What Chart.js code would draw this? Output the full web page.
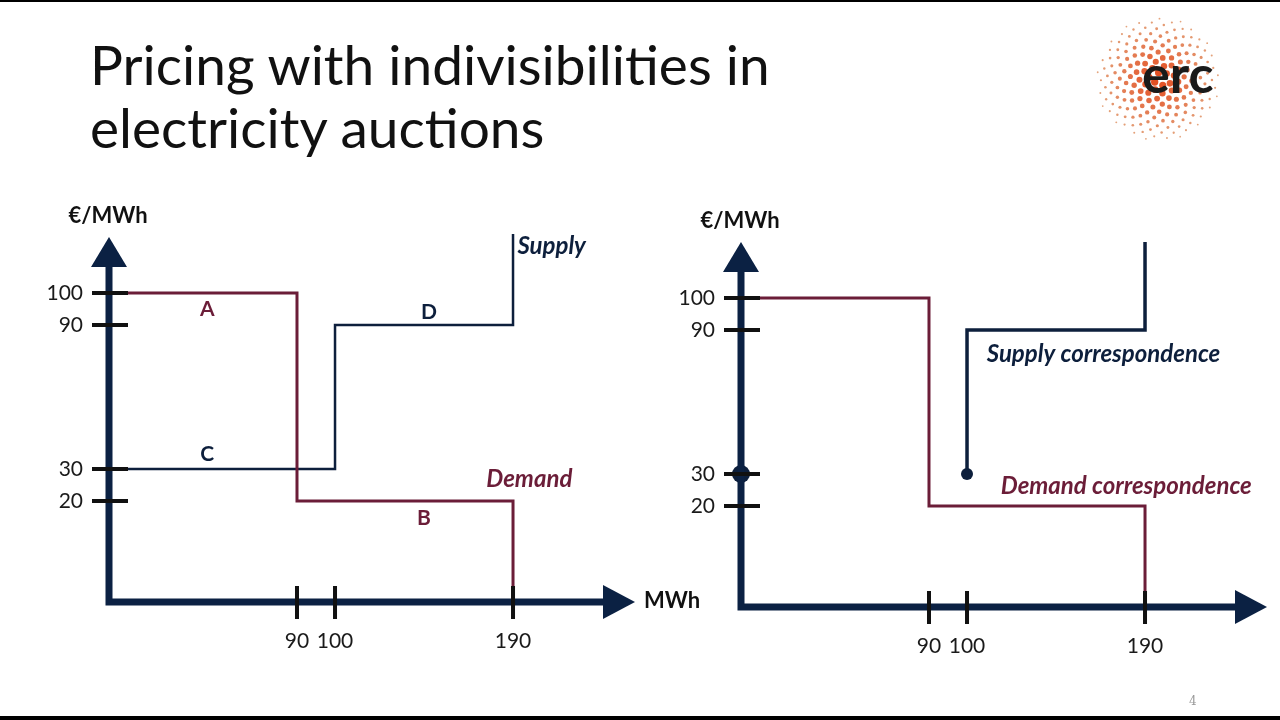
<!DOCTYPE html>
<html>
<head>
<meta charset="utf-8">
<script src="https://cdn.jsdelivr.net/npm/chart.js@4.4.1/dist/chart.umd.min.js"></script>
<style>
  html, body { margin: 0; padding: 0; background: #fff; }
  #slide { position: relative; width: 1280px; height: 720px; overflow: hidden; background: #fff; font-family: Lato, sans-serif; }
  #topbar { position: absolute; left: 0; top: 0; width: 1280px; height: 2px; background: #000; }
  #botbar { position: absolute; left: 0; top: 716px; width: 1280px; height: 4px; background: #000; }
  #title { position: absolute; left: 90px; top: 33px; font-size: 55px; line-height: 63px; color: #111; font-weight: 400; white-space: nowrap; }
  #pageno { position: absolute; left: 1189px; top: 694px; font-family: 'DejaVu Serif', serif; font-size: 12px; color: #999; }
  #logo { position: absolute; left: 1090px; top: 15px; }
  #chartLeft { position: absolute; left: 30px; top: 195px; }
  #chartRight { position: absolute; left: 662px; top: 200px; }
</style>
</head>
<body>
<div id="slide">
  <div id="topbar"></div>
  <div id="title">Pricing with indivisibilities in<br>electricity auctions</div>
  <canvas id="logo" width="140" height="130"></canvas>
  <canvas id="chartLeft"></canvas>
  <canvas id="chartRight"></canvas>
  <div id="pageno">4</div>
  <div id="botbar"></div>
</div>
<script>
// tick values on both axes
var xTicks = [90, 100, 190];
var yTicks = [20, 30, 90, 100];

// left panel: step curves
var demandQty = [0, 90, 90, 190, 190];
var demandPrice = [100, 100, 20, 20, 0];
var supplyQty = [0, 100, 100, 190, 190];
var supplyPrice = [30, 30, 90, 90, 119];

// right panel: correspondences
var corrDemandQty = [0, 90, 90, 190, 190];
var corrDemandPrice = [100, 100, 20, 20, 0];
var corrSupplyQty = [100, 100, 190, 190];
var corrSupplyPrice = [30, 90, 90, 118];
var dotQty = [0, 100];
var dotPrice = [30, 30];

// text annotations, placed in data units
var leftNotes = [
  { text: 'A', x: 47, y: 95, color: 'demand', font: 'bold 21px Lato' },
  { text: 'B', x: 145, y: 16.6, color: 'demand', font: 'bold 21px Lato' },
  { text: 'C', x: 47, y: 36.3, color: 'supply', font: 'bold 21px Lato' },
  { text: 'D', x: 147.5, y: 94, color: 'supply', font: 'bold 21px Lato' },
  { text: 'Supply', x: 209, y: 115, color: 'supply', font: 'italic bold 24px Lato' },
  { text: 'Demand', x: 198, y: 26.9, color: 'demand', font: 'italic bold 24px Lato' }
];
var rightNotes = [
  { text: 'Supply correspondence', x: 169, y: 80, color: 'supply', font: 'italic bold 24px Lato' },
  { text: 'Demand correspondence', x: 180.5, y: 26.1, color: 'demand', font: 'italic bold 24px Lato' }
];

var COLORS = { demand: '#6b1d38', supply: '#0d1f3c', axis: '#0b2143', tick: '#111111' };

// the sketch's axes are not to scale: value -> fraction of the axis length
var SCALE_KNOTS = {
  x: { values: [0, 90, 100, 190, 250], fracs: [0, 0.3574, 0.4297, 0.7681, 1] },
  y: { values: [0, 20, 30, 90, 100, 118], fracs: [0, 0.2767, 0.3644, 0.7589, 0.8466, 1] }
};

function interp(xs, ys, v) {
  var i = 1;
  while (i < xs.length - 1 && v > xs[i]) i++;
  var t = (v - xs[i - 1]) / (xs[i] - xs[i - 1]);
  return ys[i - 1] + t * (ys[i] - ys[i - 1]);
}

class SketchScale extends Chart.LinearScale {
  getPixelForValue(value) {
    var k = SCALE_KNOTS[this.axis];
    return this.getPixelForDecimal(interp(k.values, k.fracs, value));
  }
  getValueForPixel(pixel) {
    var k = SCALE_KNOTS[this.axis];
    return interp(k.fracs, k.values, this.getDecimalForPixel(pixel));
  }
}
SketchScale.id = 'sketch';
SketchScale.defaults = Chart.LinearScale.defaults;
Chart.register(SketchScale);

function points(xs, ys) {
  return xs.map(function (x, i) { return { x: x, y: ys[i] }; });
}

var axesPlugin = {
  id: 'sketchAxes',
  afterDatasetsDraw: function (chart) {
    var ctx = chart.ctx;
    var a = chart.chartArea;
    var xs = chart.scales.x;
    var ys = chart.scales.y;
    var ox = a.left, oy = a.bottom;
    ctx.save();
    ctx.strokeStyle = COLORS.axis;
    ctx.fillStyle = COLORS.axis;
    ctx.lineWidth = 7;
    ctx.beginPath();
    ctx.moveTo(ox, a.top + 28);
    ctx.lineTo(ox, oy + 3.5);
    ctx.moveTo(ox - 3.5, oy);
    ctx.lineTo(a.right - 30, oy);
    ctx.stroke();
    ctx.beginPath();
    ctx.moveTo(ox, a.top);
    ctx.lineTo(ox - 18, a.top + 30);
    ctx.lineTo(ox + 18, a.top + 30);
    ctx.closePath();
    ctx.fill();
    ctx.beginPath();
    ctx.moveTo(a.right, oy);
    ctx.lineTo(a.right - 32, oy - 17);
    ctx.lineTo(a.right - 32, oy + 17);
    ctx.closePath();
    ctx.fill();
    ctx.strokeStyle = COLORS.tick;
    ctx.lineWidth = 4;
    ctx.beginPath();
    yTicks.forEach(function (v) {
      var py = ys.getPixelForValue(v);
      ctx.moveTo(ox - 17, py);
      ctx.lineTo(ox + 19, py);
    });
    xTicks.forEach(function (v) {
      var px = xs.getPixelForValue(v);
      ctx.moveTo(px, oy - 16);
      ctx.lineTo(px, oy + 17);
    });
    ctx.stroke();
    ctx.restore();
  },
  afterDraw: function (chart, args, opts) {
    var ctx = chart.ctx;
    var a = chart.chartArea;
    ctx.save();
    ctx.textBaseline = 'middle';
    ctx.textAlign = 'center';
    (opts.notes || []).forEach(function (n) {
      ctx.font = n.font;
      ctx.fillStyle = COLORS[n.color];
      ctx.fillText(n.text, chart.scales.x.getPixelForValue(n.x), chart.scales.y.getPixelForValue(n.y));
    });
    ctx.fillStyle = '#111';
    ctx.font = 'bold 22px Lato';
    ctx.fillText('€/MWh', a.left - 1, a.top - 21);
    if (opts.xTitle) {
      ctx.textAlign = 'left';
      ctx.fillText(opts.xTitle, a.right + 9, a.bottom - 1);
    }
    ctx.restore();
  }
};

function makeChart(id, width, datasets, notes, xTitle) {
  var el = document.getElementById(id);
  el.width = width;
  el.height = 500;
  el.style.width = width + 'px';
  el.style.height = '500px';
  return new Chart(el, {
    type: 'scatter',
    data: { datasets: datasets },
    options: {
      responsive: false,
      animation: false,
      devicePixelRatio: 1,
      layout: { padding: { top: 42, right: width - 605, left: 0, bottom: 0 } },
      plugins: {
        legend: { display: false },
        tooltip: { enabled: false },
        sketchAxes: { notes: notes, xTitle: xTitle }
      },
      scales: {
        x: {
          type: 'sketch',
          min: 0,
          max: 250,
          grid: { display: false, drawTicks: false },
          border: { display: false },
          afterBuildTicks: function (s) { s.ticks = xTicks.map(function (v) { return { value: v }; }); },
          afterFit: function (s) { s.height = 93; },
          ticks: { padding: 27, color: '#1a1a1a', font: { family: 'Lato', size: 21 }, maxRotation: 0, autoSkip: false }
        },
        y: {
          type: 'sketch',
          min: 0,
          max: 118,
          grid: { display: false, drawTicks: false },
          border: { display: false },
          afterBuildTicks: function (s) { s.ticks = yTicks.map(function (v) { return { value: v }; }); },
          afterFit: function (s) { s.width = 79; },
          ticks: { padding: 26, color: '#1a1a1a', font: { family: 'Lato', size: 21 }, autoSkip: false }
        }
      }
    },
    plugins: [axesPlugin]
  });
}

function line(xs, ys, color, width) {
  return {
    data: points(xs, ys),
    showLine: true,
    borderColor: color,
    borderWidth: width,
    pointRadius: 0,
    tension: 0,
    clip: false,
    borderJoinStyle: 'miter'
  };
}

makeChart('chartLeft', 700, [
  line(demandQty, demandPrice, COLORS.demand, 3),
  line(supplyQty, supplyPrice, COLORS.supply, 2.5)
], leftNotes, 'MWh');

makeChart('chartRight', 640, [
  line(corrDemandQty, corrDemandPrice, COLORS.demand, 3),
  line(corrSupplyQty, corrSupplyPrice, COLORS.supply, 3.5),
  {
    data: points(dotQty, dotPrice),
    showLine: false,
    pointRadius: [9, 6],
    pointBackgroundColor: COLORS.supply,
    pointBorderWidth: 0,
    clip: false
  }
], rightNotes, '');

// erc logo: sunflower of orange dots with the letters on top
(function () {
  var c = document.getElementById('logo').getContext('2d');
  var cx = 68, cy = 64, R = 62, n = 190, golden = Math.PI * (3 - Math.sqrt(5));
  for (var i = 1; i < n; i++) {
    var r = R * Math.sqrt(i / n);
    var ang = i * golden;
    var t = r / R;
    var rad = Math.max(0.7, 3.9 * (1 - t * 0.78));
    var g = Math.round(72 + 95 * t), b = Math.round(28 + 100 * t);
    c.fillStyle = 'rgb(228,' + g + ',' + b + ')';
    c.beginPath();
    c.arc(cx + r * Math.cos(ang), cy + r * Math.sin(ang), rad, 0, Math.PI * 2);
    c.fill();
  }
  c.fillStyle = '#1a1a1a';
  c.font = 'bold 52px Lato';
  c.textBaseline = 'alphabetic';
  c.fillText('erc', 52, 78);
})();
</script>
</body>
</html>
